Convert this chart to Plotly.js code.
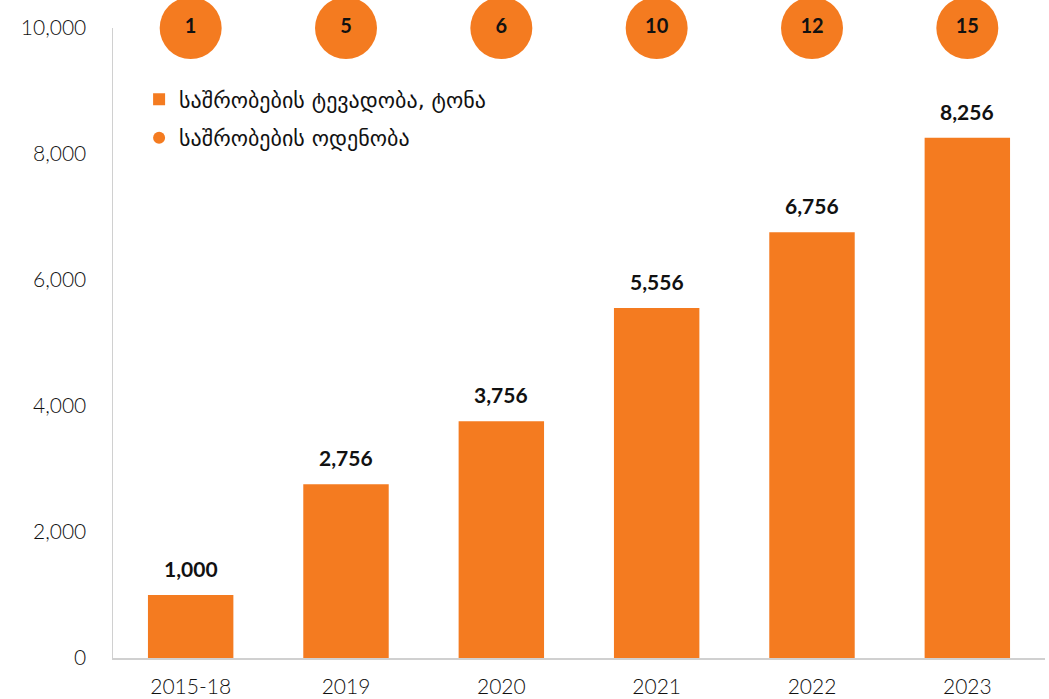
<!DOCTYPE html>
<html>
<head>
<meta charset="utf-8">
<script src="https://cdn.plot.ly/plotly-3.0.1.min.js"></script>
<style>
  body { margin: 0; background: #fff; }
  #plotdiv { width: 1049px; height: 699px; }
</style>
</head>
<body>
<div id="plotdiv"></div>
<script>
var years = ['2015-18', '2019', '2020', '2021', '2022', '2023'];
var capacity = [1000, 2756, 3756, 5556, 6756, 8256];
var dryerCount = [1, 5, 6, 10, 12, 15];
var capacityName = 'საშრობების ტევადობა, ტონა';
var countName = 'საშრობების ოდენობა';

var orange = '#F47B20';
var numFont = 'Lato, "Open Sans", sans-serif';

var bars = {
  x: years,
  y: capacity,
  type: 'bar',
  name: capacityName,
  legendgroup: 'a',
  width: 0.55,
  marker: { color: orange },
  hoverinfo: 'x+y'
};

// the dryer count sits in circles along the top edge
var circles = {
  x: years,
  y: years.map(function(){ return 10000; }),
  type: 'scatter',
  mode: 'markers+text',
  name: countName,
  legendgroup: 'b',
  marker: { color: orange, size: 62 },
  text: dryerCount.map(String),
  textposition: 'middle center',
  textfont: { family: numFont, size: 20, color: '#111', weight: 'bold' },
  cliponaxis: false
};

// value labels above the bars (x by category index, '2019' would be read as a number)
var valueLabels = years.map(function(yr, i){
  return {
    x: i, y: capacity[i], xref: 'x', yref: 'y',
    text: capacity[i].toLocaleString('en-US'),
    showarrow: false, yanchor: 'bottom', yshift: 12,
    font: { family: numFont, size: 21, color: '#111', weight: 'bold' }
  };
});

var layout = {
  width: 1049,
  height: 699,
  margin: { l: 113, r: 4, t: 28, b: 41 },
  paper_bgcolor: '#fff',
  plot_bgcolor: '#fff',
  font: { family: numFont, color: '#222' },
  showlegend: true,
  legend: {
    x: 0.028, y: 0.92, xanchor: 'left', yanchor: 'top',
    font: { family: '"DejaVu Sans", "Noto Sans", sans-serif', size: 22, color: '#111' },
    itemsizing: 'constant',
    itemwidth: 30,
    traceorder: 'grouped',
    tracegroupgap: 7,
    bgcolor: 'rgba(0,0,0,0)'
  },
  xaxis: {
    type: 'category',
    range: [-0.5, 5.5],
    showgrid: false,
    showline: true,
    linecolor: '#d0d0d0',
    linewidth: 1.5,
    ticks: '',
    ticklabelstandoff: 9,
    tickfont: { family: numFont, size: 21, color: '#111', weight: 300 }
  },
  yaxis: {
    range: [0, 10000],
    dtick: 2000,
    tickformat: ',',
    showgrid: false,
    zeroline: false,
    showline: true,
    linecolor: '#d0d0d0',
    linewidth: 1.5,
    ticks: '',
    ticklabelstandoff: 21,
    tickfont: { family: numFont, size: 21, color: '#111', weight: 300 }
  },
  annotations: valueLabels,
  hovermode: 'closest'
};

Plotly.newPlot('plotdiv', [bars, circles], layout, { displayModeBar: false, staticPlot: true });
</script>
</body>
</html>
